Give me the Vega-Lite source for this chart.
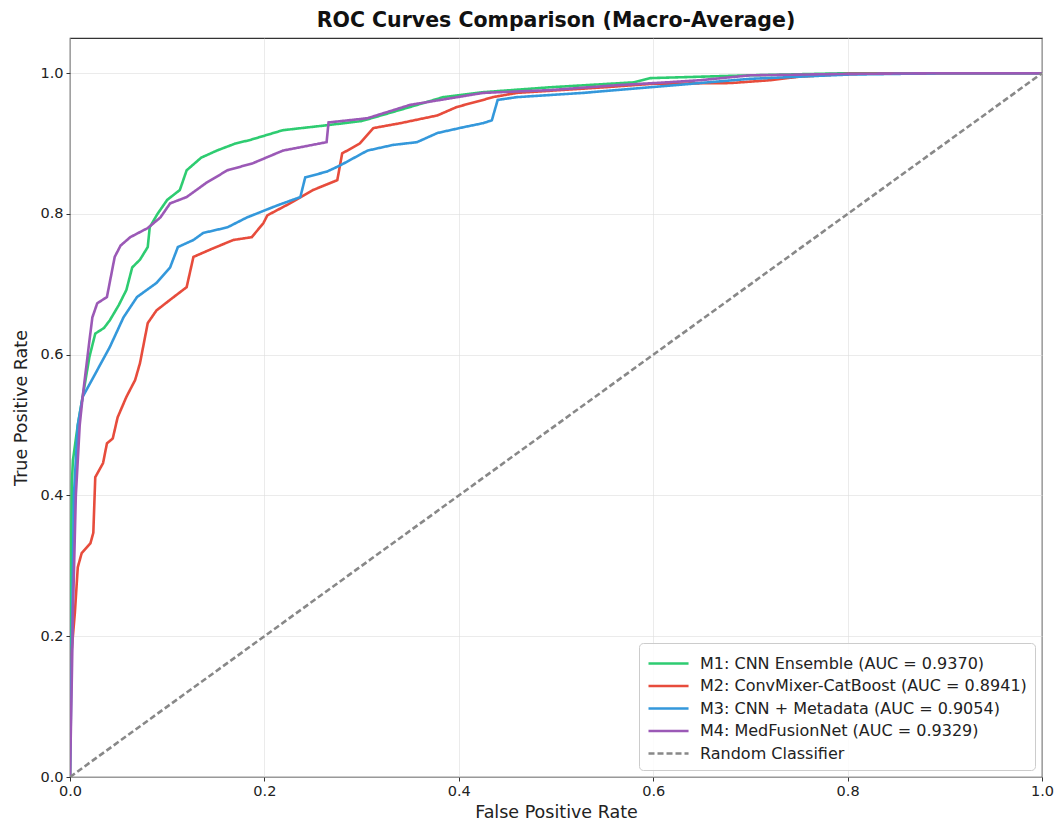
{
  "$schema": "https://vega.github.io/schema/vega-lite/v6.json",
  "width": 972,
  "height": 739,
  "autosize": "none",
  "padding": {"left": 70, "top": 38, "right": 17, "bottom": 48},
  "background": "white",
  "config": {
    "font": "DejaVu Sans",
    "view": {"stroke": "#333", "strokeWidth": 1.2},
    "axis": {"labelFont": "DejaVu Sans", "titleFont": "DejaVu Sans", "labelFontSize": 14.5, "titleFontSize": 17.5, "titleFontWeight": "normal", "labelColor": "#222", "titleColor": "#222", "gridColor": "#ddd", "gridOpacity": 0.6, "tickColor": "#333", "domain": false, "tickSize": 4, "labelPadding": 3}
  },
  "title": {"text": "ROC Curves Comparison (Macro-Average)", "fontSize": 20.5, "fontWeight": "bold", "font": "DejaVu Sans", "offset": 7, "color": "#111"},
  "data": {"values": [
    {"k":"M1","fpr":0,"tpr":0},{"k":"M1","fpr":0,"tpr":0.2},{"k":"M1","fpr":0.002,"tpr":0.42},{"k":"M1","fpr":0.003,"tpr":0.45},{"k":"M1","fpr":0.008,"tpr":0.5},{"k":"M1","fpr":0.013,"tpr":0.54},{"k":"M1","fpr":0.02,"tpr":0.597},{"k":"M1","fpr":0.026,"tpr":0.63},{"k":"M1","fpr":0.035,"tpr":0.638},{"k":"M1","fpr":0.041,"tpr":0.649},{"k":"M1","fpr":0.05,"tpr":0.67},{"k":"M1","fpr":0.058,"tpr":0.692},{"k":"M1","fpr":0.064,"tpr":0.724},{"k":"M1","fpr":0.072,"tpr":0.735},{"k":"M1","fpr":0.08,"tpr":0.753},{"k":"M1","fpr":0.082,"tpr":0.781},{"k":"M1","fpr":0.09,"tpr":0.8},{"k":"M1","fpr":0.1,"tpr":0.82},{"k":"M1","fpr":0.113,"tpr":0.834},{"k":"M1","fpr":0.12,"tpr":0.862},{"k":"M1","fpr":0.135,"tpr":0.88},{"k":"M1","fpr":0.151,"tpr":0.89},{"k":"M1","fpr":0.17,"tpr":0.9},{"k":"M1","fpr":0.185,"tpr":0.905},{"k":"M1","fpr":0.219,"tpr":0.919},{"k":"M1","fpr":0.264,"tpr":0.926},{"k":"M1","fpr":0.3,"tpr":0.932},{"k":"M1","fpr":0.35,"tpr":0.952},{"k":"M1","fpr":0.384,"tpr":0.966},{"k":"M1","fpr":0.425,"tpr":0.973},{"k":"M1","fpr":0.494,"tpr":0.98},{"k":"M1","fpr":0.58,"tpr":0.987},{"k":"M1","fpr":0.597,"tpr":0.993},{"k":"M1","fpr":0.7,"tpr":0.997},{"k":"M1","fpr":0.8,"tpr":1.0},{"k":"M1","fpr":1,"tpr":1},
    {"k":"M2","fpr":0,"tpr":0},{"k":"M2","fpr":0,"tpr":0.152},{"k":"M2","fpr":0.005,"tpr":0.233},{"k":"M2","fpr":0.008,"tpr":0.298},{"k":"M2","fpr":0.012,"tpr":0.318},{"k":"M2","fpr":0.021,"tpr":0.332},{"k":"M2","fpr":0.024,"tpr":0.347},{"k":"M2","fpr":0.026,"tpr":0.426},{"k":"M2","fpr":0.034,"tpr":0.446},{"k":"M2","fpr":0.038,"tpr":0.474},{"k":"M2","fpr":0.044,"tpr":0.481},{"k":"M2","fpr":0.049,"tpr":0.511},{"k":"M2","fpr":0.058,"tpr":0.54},{"k":"M2","fpr":0.067,"tpr":0.564},{"k":"M2","fpr":0.072,"tpr":0.588},{"k":"M2","fpr":0.08,"tpr":0.645},{"k":"M2","fpr":0.089,"tpr":0.663},{"k":"M2","fpr":0.103,"tpr":0.678},{"k":"M2","fpr":0.12,"tpr":0.696},{"k":"M2","fpr":0.127,"tpr":0.739},{"k":"M2","fpr":0.147,"tpr":0.751},{"k":"M2","fpr":0.168,"tpr":0.763},{"k":"M2","fpr":0.187,"tpr":0.767},{"k":"M2","fpr":0.199,"tpr":0.787},{"k":"M2","fpr":0.203,"tpr":0.798},{"k":"M2","fpr":0.229,"tpr":0.817},{"k":"M2","fpr":0.25,"tpr":0.834},{"k":"M2","fpr":0.275,"tpr":0.848},{"k":"M2","fpr":0.28,"tpr":0.886},{"k":"M2","fpr":0.298,"tpr":0.9},{"k":"M2","fpr":0.312,"tpr":0.922},{"k":"M2","fpr":0.34,"tpr":0.929},{"k":"M2","fpr":0.378,"tpr":0.94},{"k":"M2","fpr":0.398,"tpr":0.952},{"k":"M2","fpr":0.425,"tpr":0.962},{"k":"M2","fpr":0.435,"tpr":0.966},{"k":"M2","fpr":0.46,"tpr":0.972},{"k":"M2","fpr":0.55,"tpr":0.98},{"k":"M2","fpr":0.6,"tpr":0.985},{"k":"M2","fpr":0.68,"tpr":0.986},{"k":"M2","fpr":0.72,"tpr":0.99},{"k":"M2","fpr":0.75,"tpr":0.995},{"k":"M2","fpr":0.8,"tpr":0.999},{"k":"M2","fpr":0.9,"tpr":1},{"k":"M2","fpr":1,"tpr":1},
    {"k":"M3","fpr":0,"tpr":0},{"k":"M3","fpr":0.002,"tpr":0.2},{"k":"M3","fpr":0.004,"tpr":0.4},{"k":"M3","fpr":0.008,"tpr":0.5},{"k":"M3","fpr":0.013,"tpr":0.54},{"k":"M3","fpr":0.028,"tpr":0.578},{"k":"M3","fpr":0.041,"tpr":0.611},{"k":"M3","fpr":0.055,"tpr":0.653},{"k":"M3","fpr":0.069,"tpr":0.682},{"k":"M3","fpr":0.089,"tpr":0.702},{"k":"M3","fpr":0.103,"tpr":0.724},{"k":"M3","fpr":0.111,"tpr":0.753},{"k":"M3","fpr":0.127,"tpr":0.763},{"k":"M3","fpr":0.137,"tpr":0.773},{"k":"M3","fpr":0.162,"tpr":0.781},{"k":"M3","fpr":0.182,"tpr":0.795},{"k":"M3","fpr":0.213,"tpr":0.812},{"k":"M3","fpr":0.237,"tpr":0.824},{"k":"M3","fpr":0.242,"tpr":0.852},{"k":"M3","fpr":0.264,"tpr":0.86},{"k":"M3","fpr":0.278,"tpr":0.869},{"k":"M3","fpr":0.306,"tpr":0.89},{"k":"M3","fpr":0.332,"tpr":0.898},{"k":"M3","fpr":0.357,"tpr":0.902},{"k":"M3","fpr":0.378,"tpr":0.915},{"k":"M3","fpr":0.404,"tpr":0.923},{"k":"M3","fpr":0.425,"tpr":0.929},{"k":"M3","fpr":0.434,"tpr":0.933},{"k":"M3","fpr":0.44,"tpr":0.962},{"k":"M3","fpr":0.46,"tpr":0.966},{"k":"M3","fpr":0.528,"tpr":0.972},{"k":"M3","fpr":0.597,"tpr":0.98},{"k":"M3","fpr":0.648,"tpr":0.986},{"k":"M3","fpr":0.7,"tpr":0.992},{"k":"M3","fpr":0.8,"tpr":0.998},{"k":"M3","fpr":0.9,"tpr":1},{"k":"M3","fpr":1,"tpr":1},
    {"k":"M4","fpr":0,"tpr":0},{"k":"M4","fpr":0.002,"tpr":0.15},{"k":"M4","fpr":0.003,"tpr":0.233},{"k":"M4","fpr":0.006,"tpr":0.4},{"k":"M4","fpr":0.01,"tpr":0.5},{"k":"M4","fpr":0.013,"tpr":0.54},{"k":"M4","fpr":0.02,"tpr":0.62},{"k":"M4","fpr":0.023,"tpr":0.653},{"k":"M4","fpr":0.028,"tpr":0.673},{"k":"M4","fpr":0.038,"tpr":0.682},{"k":"M4","fpr":0.046,"tpr":0.739},{"k":"M4","fpr":0.052,"tpr":0.755},{"k":"M4","fpr":0.062,"tpr":0.767},{"k":"M4","fpr":0.08,"tpr":0.78},{"k":"M4","fpr":0.093,"tpr":0.795},{"k":"M4","fpr":0.103,"tpr":0.815},{"k":"M4","fpr":0.12,"tpr":0.824},{"k":"M4","fpr":0.141,"tpr":0.845},{"k":"M4","fpr":0.162,"tpr":0.862},{"k":"M4","fpr":0.188,"tpr":0.872},{"k":"M4","fpr":0.219,"tpr":0.89},{"k":"M4","fpr":0.264,"tpr":0.902},{"k":"M4","fpr":0.266,"tpr":0.93},{"k":"M4","fpr":0.306,"tpr":0.936},{"k":"M4","fpr":0.35,"tpr":0.955},{"k":"M4","fpr":0.381,"tpr":0.962},{"k":"M4","fpr":0.425,"tpr":0.972},{"k":"M4","fpr":0.494,"tpr":0.976},{"k":"M4","fpr":0.563,"tpr":0.983},{"k":"M4","fpr":0.614,"tpr":0.987},{"k":"M4","fpr":0.648,"tpr":0.99},{"k":"M4","fpr":0.7,"tpr":0.997},{"k":"M4","fpr":0.8,"tpr":0.999},{"k":"M4","fpr":0.9,"tpr":1},{"k":"M4","fpr":1,"tpr":1},
    {"k":"R","fpr":0,"tpr":0},{"k":"R","fpr":1,"tpr":1}
  ]},
  "mark": {"type": "line", "clip": true, "strokeCap": "butt"},
  "encoding": {
    "x": {"field": "fpr", "type": "quantitative", "scale": {"domain": [0, 1], "nice": false, "zero": false}, "axis": {"title": "False Positive Rate", "format": ".1f", "values": [0, 0.2, 0.4, 0.6, 0.8, 1], "labelOverlap": false, "labelFlush": false, "titlePadding": 6}},
    "y": {"field": "tpr", "type": "quantitative", "scale": {"domain": [0, 1.05], "nice": false, "zero": false}, "axis": {"title": "True Positive Rate", "values": [0, 0.2, 0.4, 0.6, 0.8, 1], "format": ".1f", "labelOverlap": false, "titlePadding": 9}},
    "order": {"value": null},
    "color": {"field": "k", "type": "nominal", "scale": {"domain": ["M1", "M2", "M3", "M4", "R"], "range": ["#2ecc71", "#e74c3c", "#3498db", "#9b59b6", "#888888"]},
      "legend": {"title": null, "orient": "bottom-right", "offset": 7, "labelFontSize": 16, "labelFont": "DejaVu Sans", "labelColor": "#222", "labelLimit": 500, "symbolType": "M-1,0H2.64", "symbolSize": 484, "symbolStrokeWidth": 3, "rowPadding": 1.5, "padding": 8, "strokeColor": "#ccc", "fillColor": "rgba(255,255,255,0.85)", "cornerRadius": 4, "labelOffset": 28,
        "labelExpr": "{'M1': 'M1: CNN Ensemble (AUC = 0.9370)', 'M2': 'M2: ConvMixer-CatBoost (AUC = 0.8941)', 'M3': 'M3: CNN + Metadata (AUC = 0.9054)', 'M4': 'M4: MedFusionNet (AUC = 0.9329)', 'R': 'Random Classifier'}[datum.label]"}},
    "strokeDash": {"field": "k", "type": "nominal", "scale": {"domain": ["M1", "M2", "M3", "M4", "R"], "range": [[1, 0], [1, 0], [1, 0], [1, 0], [6, 3]]}, "legend": null},
    "strokeWidth": {"field": "k", "type": "nominal", "scale": {"domain": ["M1", "M2", "M3", "M4", "R"], "range": [2.6, 2.6, 2.6, 2.6, 1.5]}, "legend": null}
  }
}
